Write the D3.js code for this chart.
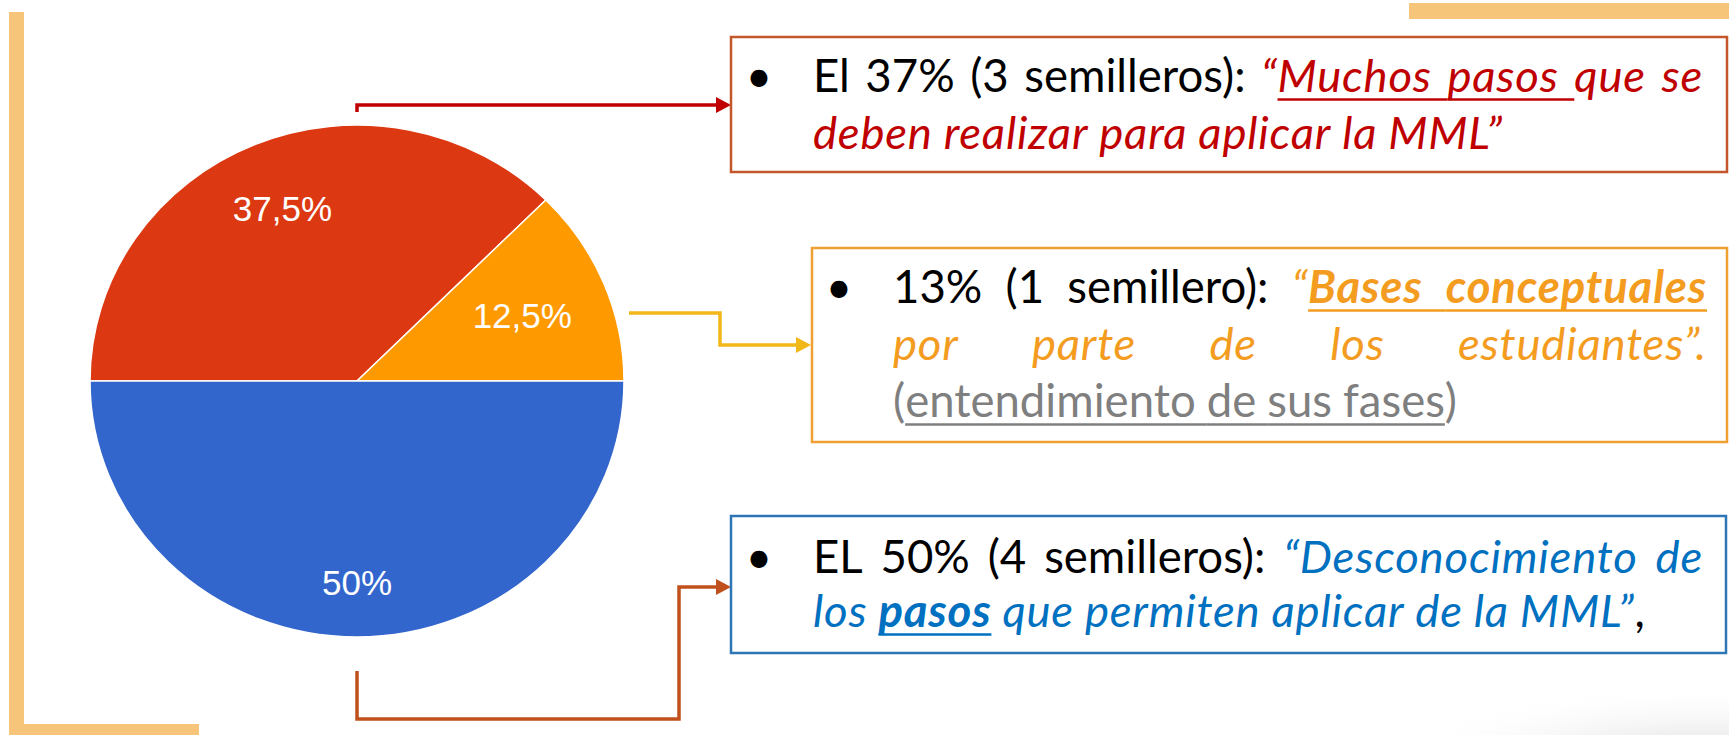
<!DOCTYPE html>
<html>
<head>
<meta charset="utf-8">
<script src="https://cdn.jsdelivr.net/npm/d3@7"></script>
<style>
html, body { margin: 0; padding: 0; background: #fff; }
svg { display: block; }
</style>
</head>
<body>
<div id="chart-area"></div>
<script>
// pie data
var categories  = ["Muchos pasos", "Bases conceptuales", "Desconocimiento de los pasos"];
var shares      = [37.5, 12.5, 50];
var sliceLabels = ["37,5%", "12,5%", "50%"];
var sliceColors = ["#DC3912", "#FF9900", "#3366CC"];

// callout text: line -> words -> runs [text, style, underline(1 = word, 2 = word + gap)]
var box1Lines = [
    [[["El", "k"]], [["37%", "k"]], [["(3", "k"]], [["semilleros):", "k"]],
     [["“", "r"], ["Muchos", "r", 2]], [["pasos", "r", 2]], [["que", "r"]], [["se", "r"]]],
    [[["deben", "r"]], [["realizar", "r"]], [["para", "r"]], [["aplicar", "r"]], [["la", "r"]], [["MML”", "r"]]]
];
var box2Lines = [
    [[["13%", "k"]], [["(1", "k"]], [["semillero):", "k"]],
     [["“", "o"], ["Bases", "ob", 2]], [["conceptuales", "ob", 1]]],
    [[["por", "o"]], [["parte", "o"]], [["de", "o"]], [["los", "o"]], [["estudiantes”.", "o"]]],
    [[["(", "g"], ["entendimiento", "g", 2]], [["de", "g", 2]], [["sus", "g", 2]], [["fases", "g", 1], [")", "g"]]]
];
var box3Lines = [
    [[["EL", "k"]], [["50%", "k"]], [["(4", "k"]], [["semilleros):", "k"]],
     [["“Desconocimiento", "b"]], [["de", "b"]]],
    [[["los", "b"]], [["pasos", "bb", 1]], [["que", "b"]], [["permiten", "b"]], [["aplicar", "b"]],
     [["de", "b"]], [["la", "b"]], [["MML”", "b"], [",", "k"]]]
];


var width  = 1729;
var height = 735;

var svg = d3.select("#chart-area")
    .append("svg")
        .attr("width", width)
        .attr("height", height);

// soft shadow bottom right
var defs = svg.append("defs");
var grad = defs.append("radialGradient").attr("id", "shade");
grad.append("stop").attr("offset", "0%").attr("stop-color", "#cfcfcf").attr("stop-opacity", 0.9);
grad.append("stop").attr("offset", "100%").attr("stop-color", "#ffffff").attr("stop-opacity", 0);
svg.append("ellipse")
    .attr("cx", 1700).attr("cy", 765)
    .attr("rx", 320).attr("ry", 80)
    .attr("fill", "url(#shade)");

// decorative brackets
var bracket = "#F7C57A";
svg.append("rect").attr("x", 9).attr("y", 12).attr("width", 15).attr("height", 723).attr("fill", bracket);
svg.append("rect").attr("x", 9).attr("y", 724).attr("width", 190).attr("height", 11).attr("fill", bracket);
svg.append("rect").attr("x", 1409).attr("y", 3).attr("width", 320).attr("height", 16).attr("fill", bracket);


// pie
var cx = 357, cy = 381, rx = 267, ry = 256;

var pie = d3.pie()
    .sort(null)
    .startAngle(-Math.PI / 2)
    .endAngle(Math.PI * 1.5);

var arcs = pie(shares);

var arc = d3.arc()
    .innerRadius(0)
    .outerRadius(rx);

var pieG = svg.append("g")
    .attr("transform", "translate(" + cx + "," + cy + ") scale(1," + (ry / rx) + ")");

pieG.selectAll("path")
    .data(arcs)
    .enter()
    .append("path")
        .attr("d", arc)
        .attr("fill", function(d, i) { return sliceColors[i]; })
        .attr("stroke", "#ffffff")
        .attr("stroke-width", 1.5)
        .attr("vector-effect", "non-scaling-stroke");

// label distance from centre, as share of radius, per slice
var labelReach = [0.73, 0.67, 0.79];

svg.selectAll(".slice-label")
    .data(arcs)
    .enter()
    .append("text")
        .attr("class", "slice-label")
        .attr("x", function(d, i) {
            var a = d3.arc().innerRadius(rx * labelReach[i]).outerRadius(rx * labelReach[i]);
            return cx + a.centroid(d)[0];
        })
        .attr("y", function(d, i) {
            var a = d3.arc().innerRadius(rx * labelReach[i]).outerRadius(rx * labelReach[i]);
            return cy + a.centroid(d)[1] * ry / rx;
        })
        .attr("dy", "0.35em")
        .attr("text-anchor", "middle")
        .attr("font-family", "'Liberation Sans', Arial, sans-serif")
        .attr("font-size", 35)
        .attr("fill", "#ffffff")
        .text(function(d, i) { return sliceLabels[i]; });


// connectors
function arrowHead(x, y, color) {
    svg.append("path")
        .attr("d", "M" + x + "," + y + " L" + (x - 15) + "," + (y - 8) + " L" + (x - 15) + "," + (y + 8) + " Z")
        .attr("fill", color);
}

var connectors = [
    { d: "M357,112 V105 H718", tip: [731, 105], color: "#C00000" },
    { d: "M629,313 H720 V345 H798", tip: [811, 345], color: "#F2B718" },
    { d: "M357,671 V719 H679 V587 H718", tip: [731, 587], color: "#C0501C" }
];

connectors.forEach(function(c) {
    svg.append("path")
        .attr("d", c.d)
        .attr("fill", "none")
        .attr("stroke", c.color)
        .attr("stroke-width", 3.5);
    arrowHead(c.tip[0], c.tip[1], c.color);
});


// callout boxes
var fontFamily = "Lato, 'Open Sans', sans-serif";
var fontSize = 45.5;
var spaceW = 11;

var styles = {
    k:  { fill: "#000000", italic: false, bold: false },
    r:  { fill: "#C00000", italic: true,  bold: false },
    o:  { fill: "#F39C1F", italic: true,  bold: false },
    ob: { fill: "#F39C1F", italic: true,  bold: true },
    g:  { fill: "#7F7F7F", italic: false, bold: false },
    b:  { fill: "#0070C0", italic: true,  bold: false },
    bb: { fill: "#0070C0", italic: true,  bold: true }
};

function drawLine(g, line, x0, x1, y, justify) {
    var words = line.map(function(word) {
        var runs = word.map(function(r) {
            var st = styles[r[1]];
            var t = g.append("text")
                .attr("y", y)
                .attr("font-family", fontFamily)
                .attr("font-size", fontSize)
                .attr("font-style", st.italic ? "italic" : "normal")
                .attr("font-weight", st.bold ? 700 : 400)
                .attr("letter-spacing", st.italic ? 0.8 : 0)
                .attr("fill", st.fill)
                .text(r[0]);
            return { el: t, w: t.node().getComputedTextLength(), ul: r[2] || 0, fill: st.fill };
        });
        return { runs: runs, w: d3.sum(runs, function(r) { return r.w; }) };
    });

    var total = d3.sum(words, function(w) { return w.w; });
    var gap = (justify && words.length > 1) ? (x1 - x0 - total) / (words.length - 1) : spaceW;

    var x = x0;
    words.forEach(function(w, wi) {
        w.runs.forEach(function(r) {
            r.el.attr("x", x);
            if (r.ul) {
                var end = x + r.w + ((r.ul === 2 && wi < words.length - 1) ? gap : 0);
                g.append("line")
                    .attr("x1", x).attr("x2", end)
                    .attr("y1", y + 7.5).attr("y2", y + 7.5)
                    .attr("stroke", r.fill)
                    .attr("stroke-width", 2.5);
            }
            x += r.w;
        });
        x += gap;
    });
}

var boxes = [
    { x: 731, y: 37,  w: 996, h: 135, stroke: "#C3562A", bulletX: 759, left: 813, right: 1703,
      base: 92,  step: 57, lines: box1Lines, justify: [true, false] },
    { x: 812, y: 248, w: 915, h: 194, stroke: "#F0A030", bulletX: 839, left: 893, right: 1707,
      base: 303, step: 57, lines: box2Lines, justify: [true, true, false] },
    { x: 731, y: 516, w: 995, h: 137, stroke: "#2E75B6", bulletX: 759, left: 813, right: 1703,
      base: 573, step: 54, lines: box3Lines, justify: [true, false] }
];

boxes.forEach(function(b) {
    var g = svg.append("g").attr("class", "callout");

    g.append("rect")
        .attr("x", b.x).attr("y", b.y)
        .attr("width", b.w).attr("height", b.h)
        .attr("fill", "#ffffff")
        .attr("stroke", b.stroke)
        .attr("stroke-width", 2.5);

    g.append("text")
        .attr("x", b.bulletX)
        .attr("y", b.base)
        .attr("text-anchor", "middle")
        .attr("font-family", fontFamily)
        .attr("font-size", fontSize)
        .attr("fill", "#000")
        .text("•");

    b.lines.forEach(function(line, i) {
        drawLine(g, line, b.left, b.right, b.base + i * b.step, b.justify[i]);
    });
});
</script>
</body>
</html>
